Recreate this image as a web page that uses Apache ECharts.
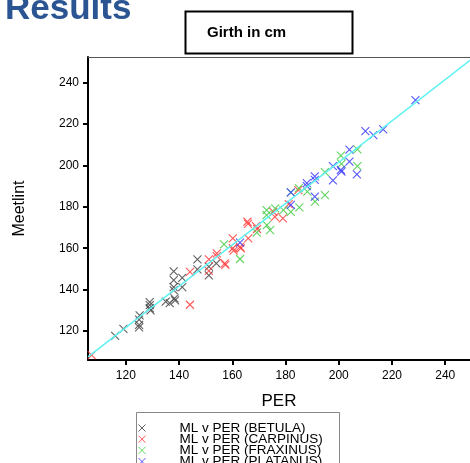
<!DOCTYPE html>
<html>
<head>
<meta charset="utf-8">
<script src="https://cdn.jsdelivr.net/npm/echarts@6/dist/echarts.min.js"></script>
<style>
  html, body { margin: 0; padding: 0; background: #fff; }
  #main { width: 470px; height: 463px; }
</style>
</head>
<body>
<div id="main"></div>
<script>
// values: [PER, Meetlint]
var betula = [[116,117.7],[119.1,121],[125.2,127.6],[125,125.5],[125,123],[125,121.8],[129,134],[129,132.5],[129,131],[129.3,130],
  [135,134.2],[136.5,133.5],[138,148.8],[138,144.6],[138,141.2],[138,139.8],[138.3,135.8],[138.5,134.8],[141.2,145.7],[141.2,141.2],
  [146.9,154.6],[146.9,149.8],[151.2,151.1],[151.2,146.9],[154,152.7]];
var carpinus = [[107.2,108.4],[144.1,148.6],[144.1,132.7],[151.2,154.6],[151.2,149.1],[154.2,157.5],[154.2,156.2],[157.2,152.7],
  [157.4,152],[160.2,164.8],[160.2,160],[160.5,158.9],[162.9,160.7],[163.2,160],[165.7,172.8],[165.9,171.8],[166,164.8],
  [168.9,170.7],[169.3,169.3],[175.4,177.6],[176,175.2],[179,174.4],[181.2,181.3],[184.8,188.1]];
var fraxinus = [[156.9,161.9],[162.9,154.8],[169.2,167.5],[172.9,178.4],[172.9,176],[173,171.2],[174.2,168.8],[176.1,179.3],
  [179.2,178.4],[182,177.6],[182,187],[185.2,179.7],[185,189],[188.2,187.3],[191.1,182.5],[194.8,185.7],[194.8,196.8],
  [200.8,204.7],[201,200.8],[207,199.7],[207,207.8]];
var platanus = [[162.9,162.7],[182,187],[182,181],[188,191.5],[188,190],[191,194.7],[191,193],[191,184.9],[197.8,199.7],
  [197.8,192.8],[200.8,197.8],[201,197],[204,201.8],[204,207.6],[206.8,195.7],[210,216.6],[213,214.7],[216.7,217.4],[228.8,231.6]];
var fitLine = [[105.8,107.5],[249.3,250.8]];
var tickValues = [120, 140, 160, 180, 200, 220, 240];
var seriesNames = ['ML v PER (BETULA)','ML v PER (CARPINUS)','ML v PER (FRAXINUS)','ML v PER (PLATANUS)'];
var colors = ['#444444','#ff3b3b','#44cc44','#3a3aff'];

var cross = 'path://M0,0L10,10M10,0L0,10';
var font = '"Liberation Sans", Arial, sans-serif';

function scat(i, data) {
  return {
    name: seriesNames[i], type: 'scatter', data: data,
    symbol: cross, symbolSize: 8,
    itemStyle: { color: colors[i], borderColor: colors[i], borderWidth: 1.1, opacity: 0.85 }
  };
}

var myChart = echarts.init(document.getElementById('main'));
var option = {
  animation: false,
  grid: { left: 88, right: 0, top: 57, bottom: 103 },
  legend: {
    orient: 'vertical', left: 138, top: 421, height: 80,
    padding: 0, itemGap: -2.8, itemWidth: 7, itemHeight: 7,
    icon: cross,
    data: seriesNames.map(function (n, i) {
      return { name: n, itemStyle: { color: colors[i], borderColor: colors[i], borderWidth: 1 } };
    }),
    formatter: function (n) { return '{s|}' + n; },
    textStyle: { fontFamily: font, fontSize: 13.5, color: '#000', lineHeight: 10.7,
      rich: { s: { width: 29 } } }
  },
  xAxis: [{
    type: 'value', min: 105.8, max: 249.3,
    name: 'PER', nameLocation: 'middle', nameGap: 33,
    nameTextStyle: { fontFamily: font, fontSize: 17, color: '#000' },
    axisLine: { onZero: false, lineStyle: { color: '#000', width: 2 } },
    axisTick: { length: 5, lineStyle: { width: 2 }, customValues: tickValues },
    axisLabel: { fontFamily: font, fontSize: 12, color: '#000', margin: 10, customValues: tickValues },
    splitLine: { show: false }
  }, {
    type: 'value', position: 'top', min: 105.8, max: 249.3,
    axisLine: { onZero: false, lineStyle: { color: '#555', width: 1 } },
    axisTick: { show: false }, axisLabel: { show: false }, splitLine: { show: false }
  }],
  yAxis: {
    type: 'value', min: 106, max: 252.4,
    name: 'Meetlint', nameLocation: 'middle', nameGap: 60,
    nameTextStyle: { fontFamily: font, fontSize: 16, color: '#000' },
    axisLine: { onZero: false, lineStyle: { color: '#000', width: 2 } },
    axisTick: { length: 5, lineStyle: { width: 2 }, customValues: tickValues },
    axisLabel: { fontFamily: font, fontSize: 12, color: '#000', margin: 9, customValues: tickValues },
    splitLine: { show: false }
  },
  graphic: [
    { type: 'text', x: 5, y: 9, style: { text: 'Results', font: 'bold 35px ' + font, fill: '#2b5592', verticalAlign: 'middle', align: 'left' } },
    { type: 'rect', shape: { x: 185.5, y: 11.5, width: 167, height: 42 }, style: { fill: '#fff', stroke: '#000', lineWidth: 2 }, z: 10 },
    { type: 'text', x: 207, y: 33, z: 11, style: { text: 'Girth in cm', font: 'bold 15px ' + font, fill: '#000', verticalAlign: 'middle', align: 'left' } },
    { type: 'rect', shape: { x: 136.5, y: 412.5, width: 203, height: 80 }, style: { fill: 'none', stroke: '#888', lineWidth: 1 }, z: 1 }
  ],
  series: [
    scat(0, betula), scat(1, carpinus), scat(2, fraxinus), scat(3, platanus),
    { type: 'line', data: fitLine, symbol: 'none', lineStyle: { color: '#5ef2f2', width: 1.5 }, z: 3 }
  ]
};
myChart.setOption(option);
</script>
</body>
</html>
